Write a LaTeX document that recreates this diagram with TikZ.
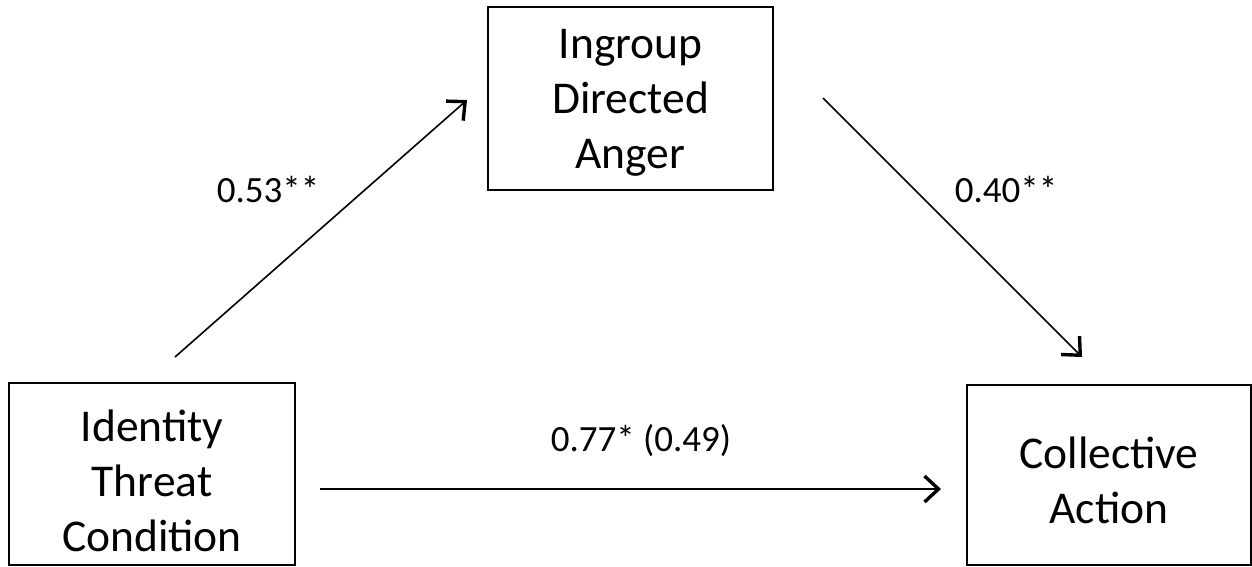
\documentclass[tikz,border=0pt]{standalone}
\usepackage{fontspec}
\setmainfont{Carlito}
\usetikzlibrary{arrows.meta}
\begin{document}
\begin{tikzpicture}[x=1pt,y=-1pt,
  box/.style={draw,line width=2.6pt,inner sep=0pt},
  boxtext/.style={inner sep=0pt,align=center,font=\fontsize{45.5}{55}\selectfont},
  lbl/.style={font=\fontsize{37}{44}\selectfont,inner sep=0pt},
  conn/.style={line width=1.6pt,-{Straight Barb[length=14pt,width=26pt,line width=3.4pt]}}]
\useasboundingbox (0,0) rectangle (1252,567);
\node[box,minimum width=286pt,minimum height=182pt] (itc) at (152,474) {};
\node[boxtext] (itct) at (152,481) {Identity\\Threat\\Condition};
\node[box,minimum width=285pt,minimum height=183pt] (ida) at (630.5,98.5) {};
\node[boxtext] (idat) at (630.5,102.5) {Ingroup\\Directed\\Anger};
\node[box,minimum width=284pt,minimum height=180pt] (ca) at (1109,475) {};
\node[boxtext] (cat) at (1109,480) {Collective\\Action};
\coordinate (a1s) at (175,357);
\coordinate (a1e) at (467,100);
\coordinate (a2s) at (823,98);
\coordinate (a2e) at (1082,357);
\coordinate (a3s) at (320,489);
\coordinate (a3e) at (941,489);
\draw[conn] (a1s) -- (a1e);
\draw[conn] (a2s) -- (a2e);
\draw[conn] (a3s) -- (a3e);
\node[lbl] (l1) at (268,190) {0.53**};
\node[lbl] (l2) at (1006,190) {0.40**};
\node[lbl] (l3) at (641,441) {0.77* (0.49)};
\end{tikzpicture}
\end{document}
